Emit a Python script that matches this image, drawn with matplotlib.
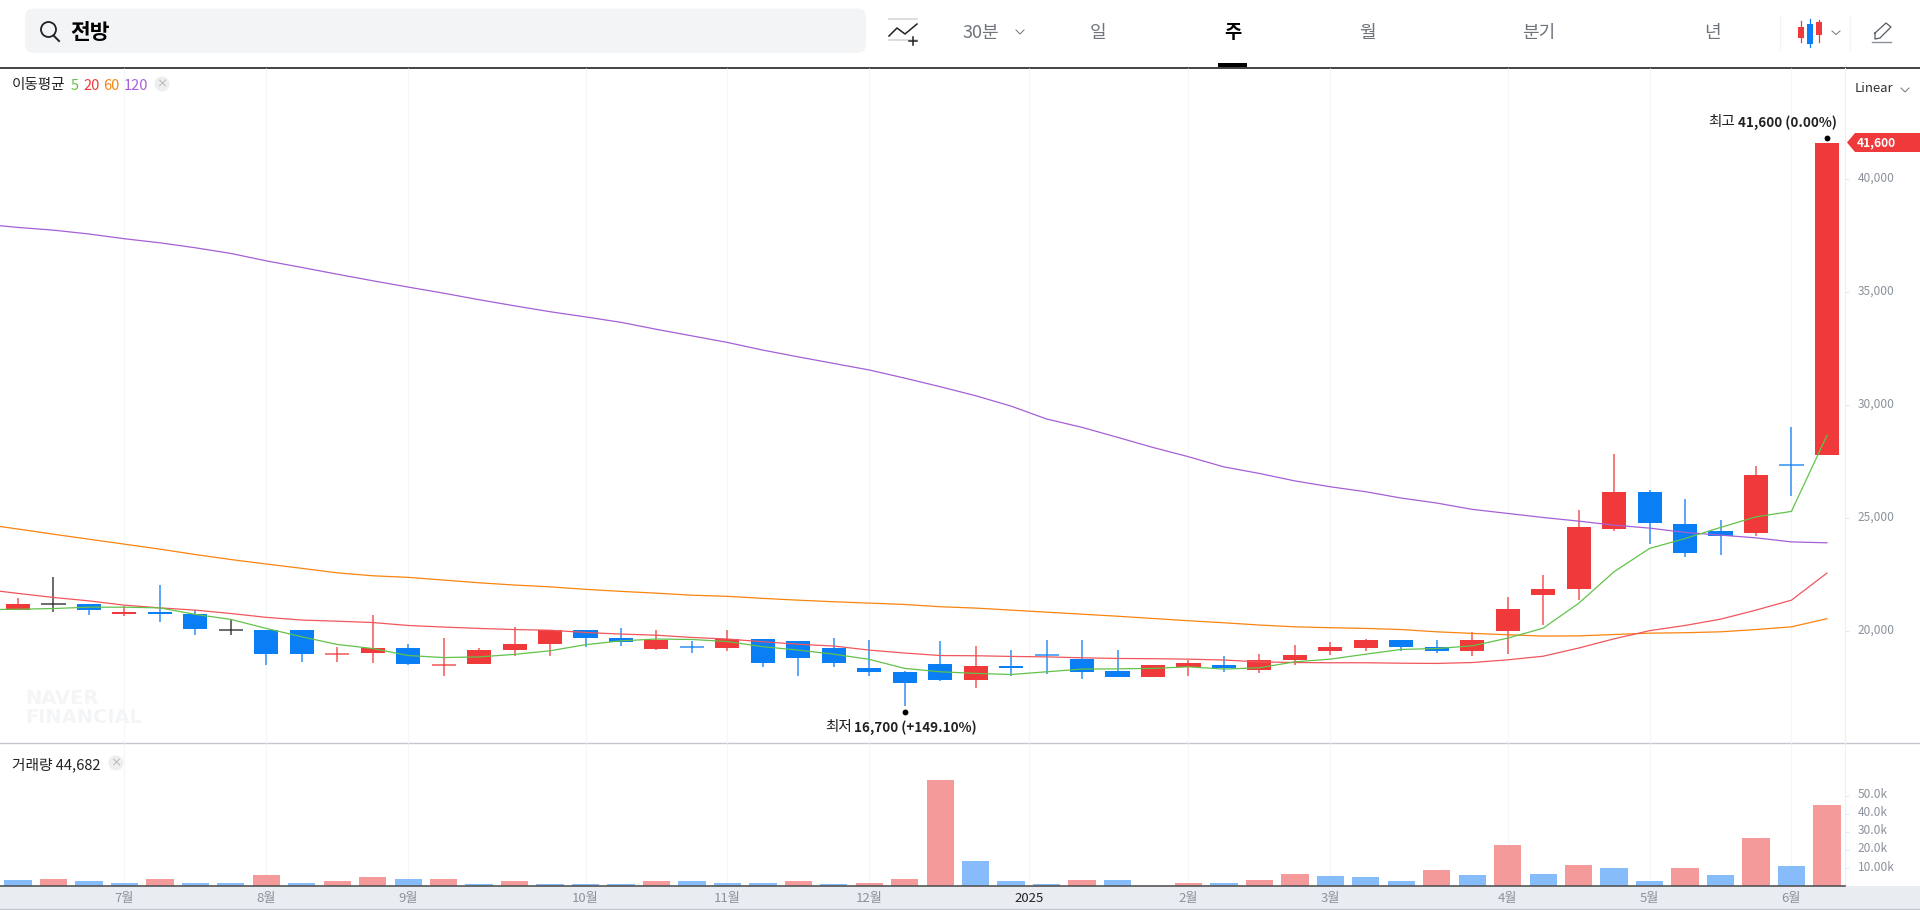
import matplotlib
matplotlib.use("Agg")
import matplotlib.pyplot as plt
from matplotlib.patches import FancyBboxPatch, Polygon, Circle
from matplotlib.ticker import FuncFormatter
from matplotlib.transforms import offset_copy, ScaledTranslation

plt.rcParams['font.family'] = ['Noto Sans CJK KR', 'DejaVu Sans']

# candles, weekly
body_top = [21200, 21200, 21200, 20850, 20850, 20750, 20050, 20050, 20050, 19000,
            19250, 19250, 18500, 19150, 19450, 20050, 20050, 19700, 19600, 19300,
            19650, 19650, 19550, 19250, 18350, 18200, 18550, 18450, 18450, 18950,
            18750, 18250, 18500, 18600, 18500, 18700, 18950, 19300, 19600, 19600,
            19300, 19600, 21000, 21850, 24600, 26150, 26150, 24750, 24450, 26900,
            27350, 41600]
body_bottom = [20950, 21200, 20950, 20750, 20750, 20100, 20050, 19000, 19000, 19000,
               19050, 18550, 18500, 18550, 19150, 19450, 19700, 19500, 19200, 19300,
               19250, 18600, 18800, 18600, 18200, 17700, 17850, 17850, 18350, 18950,
               18200, 17950, 17950, 18400, 18350, 18300, 18700, 19100, 19250, 19300,
               19100, 19100, 20000, 21600, 21850, 24500, 24800, 23450, 24200, 24350,
               27350, 27800]
highs = [21450, 22400, 21200, 21100, 22050, 20950, 20500, 20050, 20050, 19300,
         20700, 19450, 19700, 19250, 20200, 20050, 20050, 20150, 20050, 19550,
         20050, 19650, 19550, 19700, 19600, 18250, 19550, 19350, 19150, 19600,
         19600, 19150, 18500, 18700, 18900, 19000, 19400, 19500, 19650, 19600,
         19600, 19950, 21500, 22500, 25350, 27850, 26250, 25850, 24900, 27300,
         29050, 41600]
lows = [20950, 20850, 20700, 20650, 20400, 19850, 19850, 18500, 18650, 18650,
        18600, 18500, 18000, 18550, 18900, 18900, 19300, 19350, 19150, 19050,
        19100, 18400, 18000, 18400, 18000, 16700, 17800, 17500, 18000, 18100,
        17900, 17950, 17950, 18000, 18200, 18150, 18500, 18950, 19100, 19100,
        19050, 18900, 19000, 20250, 21400, 24450, 23850, 23300, 23350, 24200,
        26000, 27800]
candle_kind = "rkbrbbkbbrrbrrrrbbrbrbbbbbbrbbbbrrbrrrrbbrrrrrbbbrbr"

volumes = [3140, 3880, 2580, 1850, 3880, 1850, 1850, 5910, 1850, 2580,
           4800, 3880, 3880, 1110, 2580, 1110, 1110, 1110, 2580, 2580,
           1850, 1850, 2580, 1110, 1850, 3880, 58520, 13660, 2580, 1110,
           3140, 3140, 100, 1850, 1850, 3140, 6650, 5350, 4800, 2580,
           8680, 5910, 22520, 6650, 11450, 10150, 2580, 10150, 5910, 26770,
           10890, 44682]
volume_kind = "brbbrbbrbrrbrbrbbbrbbbrbrrrbbbrbrrbrrbbbrbrbrbbrbrbr"

# moving averages start one week before the first candle
ma5 = [20950, 20970, 21000, 21060, 21060, 21030, 20740, 20520, 20120, 19750, 19410,
       19230, 18920, 18830, 18860, 18970, 19130, 19400, 19570, 19650, 19630, 19540,
       19310, 19160, 18980, 18750, 18350, 18200, 18130, 18080, 18200, 18320, 18330,
       18350, 18420, 18320, 18380, 18640, 18760, 18980, 19190, 19230, 19350, 19690,
       20130, 21230, 22630, 23660, 24100, 24590, 25060, 25300, 28660]
ma20 = [21860, 21670, 21490, 21340, 21150, 21030, 20930, 20780, 20610, 20490, 20440,
        20380, 20250, 20180, 20120, 20070, 20040, 19940, 19870, 19820, 19720, 19650,
        19530, 19420, 19340, 19160, 19030, 18920, 18910, 18880, 18860, 18820, 18790,
        18780, 18760, 18720, 18640, 18610, 18600, 18600, 18580, 18570, 18610, 18730,
        18890, 19250, 19660, 20020, 20250, 20530, 20930, 21370, 22570]
ma60 = [24740, 24520, 24290, 24070, 23850, 23630, 23390, 23170, 22970, 22780, 22580,
        22450, 22380, 22260, 22140, 22040, 21960, 21850, 21760, 21680, 21590, 21540,
        21450, 21370, 21300, 21240, 21180, 21080, 21020, 20930, 20840, 20750, 20660,
        20560, 20460, 20370, 20270, 20190, 20150, 20120, 20070, 19970, 19900, 19840,
        19780, 19790, 19850, 19910, 19930, 19970, 20070, 20190, 20550]
ma120 = [38020, 37870, 37750, 37580, 37370, 37190, 36970, 36720, 36390, 36100, 35800,
         35510, 35230, 34960, 34670, 34400, 34140, 33910, 33670, 33360, 33070, 32780,
         32440, 32140, 31850, 31560, 31200, 30820, 30420, 29960, 29390, 29020, 28580,
         28130, 27720, 27270, 26980, 26650, 26390, 26170, 25890, 25670, 25390, 25210,
         25030, 24870, 24690, 24560, 24370, 24250, 24130, 23950, 23910]

month_pos = [3, 7, 11, 16, 20, 24, 28.5, 33, 37, 42, 46, 50]
month_labels = ['7월', '8월', '9월', '10월', '11월', '12월', '2025', '2월', '3월', '4월', '5월', '6월']
price_ticks = [20000, 25000, 30000, 35000, 40000]
volume_ticks = [10000, 20000, 30000, 40000, 50000]
volume_tick_labels = ['10.00k', '20.0k', '30.0k', '40.0k', '50.0k']

RED = '#f0393b'
BLUE = '#0a7ef5'
BLACK = '#222222'
kind_color = {'r': RED, 'b': BLUE, 'k': BLACK}
vol_color = {'r': '#f59a9b', 'b': '#85bcf9'}
GREY = '#8c929c'
GRID = '#f5f6f8'

W, H = 1920, 910
fig = plt.figure(figsize=(W / 100, H / 100), dpi=100, facecolor='white')

# page furniture in pixel coordinates
page = fig.add_axes([0, 0, 1, 1], zorder=0)
page.set_xlim(0, W)
page.set_ylim(H, 0)
page.axis('off')

page.add_patch(FancyBboxPatch((25, 8.5), 841, 44.5, boxstyle='round,pad=0,rounding_size=9',
                              fc='#f3f4f6', ec='none'))
page.add_patch(Circle((48.5, 29.5), 7.5, fc='none', ec='#222222', lw=1.3))
page.plot([53.5, 59], [35.5, 41], color='#222222', lw=1.4)
page.text(70, 32.5, '전방', fontsize=15.5, fontweight='bold', color='black', va='center')

# indicator icon
page.plot([889, 917], [18.5, 18.5], color='#d5d7dc', lw=1.2)
page.plot([889, 917], [40, 40], color='#d5d7dc', lw=1.2)
page.plot([889, 897, 905, 917], [36, 28, 34, 24], color='#222222', lw=1.1)
page.plot([913, 913], [37, 45], color='#222222', lw=1.1)
page.plot([909, 917], [41, 41], color='#222222', lw=1.1)

nav_y = 33
page.text(981, nav_y, '30분', fontsize=13, color='#6f747c', ha='center', va='center')
page.plot([1016, 1020, 1024], [30, 34, 30], color='#6f747c', lw=0.7)
for x, label in [(1098, '일'), (1367, '월'), (1539, '분기'), (1712, '년')]:
    page.text(x, nav_y, label, fontsize=13, color='#6f747c', ha='center', va='center')
page.text(1232.5, nav_y, '주', fontsize=13.5, fontweight='bold', color='black', ha='center', va='center')
page.add_patch(Polygon([(1218, 63), (1247, 63), (1247, 67), (1218, 67)], fc='black', ec='none'))

# candle icon + pencil
page.plot([1780, 1780], [15, 50], color='#f3f4f6', lw=0.8)
page.plot([1850, 1850], [15, 50], color='#f3f4f6', lw=0.8)
for x, b0, b1, w0, w1, c in [(1801, 27, 38, 21, 42, RED), (1810, 24, 44, 19, 47, BLUE), (1818.5, 22, 35, 20, 42, RED)]:
    page.plot([x, x], [w0, w1], color=c, lw=0.9)
    page.add_patch(Polygon([(x - 3, b0), (x + 3, b0), (x + 3, b1), (x - 3, b1)], fc=c, ec='none'))
page.plot([1832, 1836, 1840], [31, 34.5, 31], color='#6f747c', lw=0.7)
page.plot([1872, 1891], [42, 42], color=GREY, lw=1.0)
page.plot([1875, 1886, 1891, 1880, 1875, 1875], [33, 23, 27, 38, 39, 33], color='#555b63', lw=0.9)

page.plot([0, W], [67.5, 67.5], color='#333333', lw=1.3)
page.plot([0, W], [742.5, 742.5], color='#c4c7ce', lw=1.0)
page.add_patch(Polygon([(0, 886), (W, 886), (W, 908.5), (0, 908.5)], fc='#e9ecf1', ec='none'))
page.plot([0, W], [909, 909], color='#c4c7ce', lw=1.0)

# watermark
page.text(25, 699, 'NAVER', fontsize=14, fontweight='bold', color='#f4f5f7', va='center', family='DejaVu Sans')
page.text(25, 717.5, 'FINANCIAL', fontsize=14, fontweight='bold', color='#f4f5f7', va='center', family='DejaVu Sans')

# price panel
ax = fig.add_axes([0, (H - 742.5) / H, 1845 / W, (742.5 - 67.5) / H], zorder=2)
ax.patch.set_alpha(0)
ax.set_xlim(-0.5075, 51.51)
ax.set_ylim(15070, 44950)

ax.vlines(month_pos, *ax.get_ylim(), color=GRID, lw=0.8, zorder=0)

xs = list(range(len(body_top)))
colors = [kind_color[k] for k in candle_kind]
ax.vlines(xs, lows, highs, colors=colors, lw=1.1, alpha=0.85, zorder=2)
for i in xs:
    if body_top[i] == body_bottom[i]:
        ax.hlines(body_top[i], i - 0.34, i + 0.34, colors=colors[i], lw=1.1, alpha=0.85, zorder=2)
    else:
        ax.bar(i, body_top[i] - body_bottom[i], bottom=body_bottom[i], width=0.68,
               color=colors[i], lw=0, zorder=3)

ma_x = list(range(-1, len(body_top)))
ax.plot(ma_x, ma120, color='#a65fd6', lw=0.9, zorder=4)
ax.plot(ma_x, ma60, color='#f98410', lw=0.9, zorder=4)
ax.plot(ma_x, ma20, color='#f0565b', lw=0.9, zorder=4)
ax.plot(ma_x, ma5, color='#62c24a', lw=0.9, zorder=5)

# extreme markers
hi_i = highs.index(max(highs))
lo_i = lows.index(min(lows))
ax.plot(hi_i, highs[hi_i], 'o', ms=4.2, color='black', mew=0, zorder=6,
        transform=offset_copy(ax.transData, fig, y=5.5, units='dots'))
ax.plot(lo_i, lows[lo_i], 'o', ms=4.2, color='black', mew=0, zorder=6,
        transform=offset_copy(ax.transData, fig, y=-6, units='dots'))
ax.annotate('최고', (hi_i, highs[hi_i]), xytext=(-119, 21), textcoords='offset pixels',
            fontsize=10.5, color='#222222', va='center')
ax.annotate(f'{highs[hi_i]:,} (0.00%)', (hi_i, highs[hi_i]), xytext=(-89, 21), textcoords='offset pixels',
            fontsize=9.7, fontweight='bold', color='#222222', va='center', clip_on=False)
ax.annotate('최저', (lo_i, lows[lo_i]), xytext=(-80, -21.5), textcoords='offset pixels',
            fontsize=10.5, color='#222222', va='center')
ax.annotate(f'{lows[lo_i]:,} (+149.10%)', (lo_i, lows[lo_i]), xytext=(-51, -21.5), textcoords='offset pixels',
            fontsize=9.7, fontweight='bold', color='#222222', va='center')

ax.yaxis.tick_right()
ax.set_yticks(price_ticks)
ax.yaxis.set_major_formatter(FuncFormatter(lambda v, p: f'{int(v):,}'))
ax.tick_params(axis='y', length=3, width=0.7, color='#e6e7ea', labelcolor=GREY, labelsize=8.6, pad=6)
ax.set_xticks([])
for s in ['top', 'left', 'bottom']:
    ax.spines[s].set_visible(False)
ax.spines['right'].set_color('#eeeff2')
ax.spines['right'].set_linewidth(0.8)

# volume panel
vax = fig.add_axes([0, (H - 886) / H, 1845 / W, (886 - 743) / H], zorder=2)
vax.patch.set_alpha(0)
vax.set_xlim(ax.get_xlim())
vax.set_ylim(0, 79100)
vax.vlines(month_pos, 0, 79100, color=GRID, lw=0.8, zorder=0)
vax.bar(xs, volumes, width=0.77, color=[vol_color[k] for k in volume_kind], lw=0, zorder=2)

vax.yaxis.tick_right()
vax.set_yticks(volume_ticks)
vax.set_yticklabels(volume_tick_labels)
vax.tick_params(axis='y', length=3, width=0.7, color='#e6e7ea', labelcolor=GREY, labelsize=8.6, pad=6)
vax.set_xticks(month_pos)
vax.set_xticklabels(month_labels)
vax.tick_params(axis='x', length=0, labelcolor=GREY, labelsize=9.5, pad=4)
for lab in vax.get_xticklabels():
    if lab.get_text() == '2025':
        lab.set_color('#222222')
for s in ['top', 'left']:
    vax.spines[s].set_visible(False)
vax.spines['right'].set_color('#eeeff2')
vax.spines['right'].set_linewidth(0.8)
vax.spines['bottom'].set_color('#555555')
vax.spines['bottom'].set_linewidth(1.2)

# tick labels sit a little above their ticks in the original
lift = ScaledTranslation(0, 2.4 / 100, fig.dpi_scale_trans)
for lab in ax.get_yticklabels() + vax.get_yticklabels():
    lab.set_transform(lab.get_transform() + lift)

# top layer: legend lines and price tag
top = fig.add_axes([0, 0, 1, 1], zorder=3)
top.set_xlim(0, W)
top.set_ylim(H, 0)
top.axis('off')

leg_y = 85.5
top.text(12, leg_y, '이동평균', fontsize=10.5, color='#222222', va='center')
top.text(71, leg_y, '5', fontsize=10.5, color='#62c24a', va='center')
top.text(83, leg_y, '20', fontsize=10.5, color=RED, va='center')
top.text(103, leg_y, '60', fontsize=10.5, color='#f98410', va='center')
top.text(124, leg_y, '120', fontsize=10.5, color='#a65fd6', va='center')
top.add_patch(Circle((162, 84), 7.5, fc='#eeeeee', ec='none'))
top.text(162, 84, '×', fontsize=8, color='#aaaaaa', ha='center', va='center')

vol_y = 763
top.text(12, vol_y + 1.5, f'거래량 {volumes[-1]:,}', fontsize=10.6, color='#222222', va='center')
top.add_patch(Circle((116, vol_y), 7.5, fc='#eeeeee', ec='none'))
top.text(116, vol_y, '×', fontsize=8, color='#aaaaaa', ha='center', va='center')

top.text(1855, 89, 'Linear', fontsize=9.5, color='#333333', va='center')
top.plot([1901, 1905, 1909], [88, 92, 88], color='#6f747c', lw=0.7)

top.add_patch(Polygon([(1847, 142.5), (1855, 133), (W, 133), (W, 152), (1855, 152)], fc=RED, ec='none'))
top.text(1857, 142.5, f'{highs[-1]:,}', fontsize=8.6, fontweight='bold', color='white', va='center')

plt.savefig('out.png', dpi=100)
plt.close()
